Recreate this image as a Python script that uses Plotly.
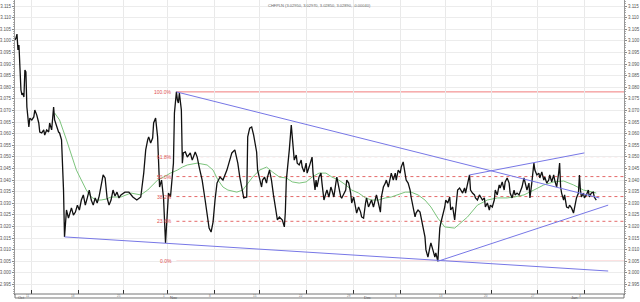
import plotly.graph_objects as go

# ---------------- data ----------------
bar_idx = [0,1,2,3,4,5,6,7,8,9,10,11,12,14,15,17,19,20,22,24,25,27,29,30,32,34,35,37,39,40,42,44,45,47,49,50,
           52,54,57,59,61,63,65,67,69,71,73,75,77,79,81,83,85,87,89,91,93,95,97,99,101,103,105,107,111,115,119,
           123,127,130,132,134,135,137,139,140,142,144,145,146,148,150,152,153,155,157,159,160,161,163,164,165,
           166,168,169,170,172,174,177,179,182,184,186,189,192,194,196,198,200,202,204,207,210,214,217,219,222,
           224,225,227,229,231,234,235,237,239,241,242,244,245,247,249,250,252,254,255,257,259,261,263,265,267,
           270,272,273,274,275,277,279,280,282,284,285,287,289,290,292,294,295,297,299,300,301,303,304,305,307,
           309,310,312,314,315,317,319,320,322,324,325,327,329,330,332,334,335,337,339,340,342,344,345,347,349,
           350,352,354,355,357,359,360,362,364,365,367,369,370,372,374,375,377,379,380,382,384,385,387,389,390,
           392,394,395,397,399,400,402,404,405,407,409,410,412,414,415,417,419,420,422,424,425,427,429,430,434,
           435,437,439,440,442,444,445,447,449,450,452,454,455,459,460,462,464,465,467,469,470,472,474,475,477,
           479,480,482,484,485,487,489,490,492,494,495,497,499,500,502,504,505,507,509,510,512,514,515,517,519,
           520,522,524,525,527,529,530,532,534,535,537,539,540,542,544,545,547,549,550,551,552,554,555,557,559,
           560,562,564,565,567,569,570,571,572,574,575,577,579,580,582,584,585,587]
close = [3.1004,3.1012,3.1029,3.0961,3.0982,3.0831,3.0788,3.0767,3.0775,3.0758,3.0874,3.0866,3.0715,3.0629,
         3.0667,3.0659,3.0672,3.0702,3.0680,3.0646,3.0607,3.0603,3.0616,3.0594,3.0616,3.0607,3.0646,3.0616,
         3.0715,3.0659,3.0629,3.0607,3.0603,3.0573,3.0357,3.0155,3.0271,3.0236,3.0280,3.0249,3.0262,3.0292,
         3.0271,3.0314,3.0336,3.0292,3.0323,3.0357,3.0314,3.0292,3.0323,3.0301,3.0331,3.0379,3.0422,3.0409,
         3.0323,3.0292,3.0314,3.0357,3.0331,3.0348,3.0323,3.0336,3.0348,3.0348,3.0327,3.0314,3.0327,3.0430,
         3.0530,3.0573,3.0586,3.0560,3.0581,3.0646,3.0667,3.0586,3.0499,3.0370,3.0400,3.0323,3.0129,3.0206,
         3.0344,3.0327,3.0443,3.0473,3.0689,3.0780,3.0745,3.0732,3.0775,3.0702,3.0473,3.0517,3.0521,3.0499,
         3.0517,3.0486,3.0521,3.0499,3.0456,3.0400,3.0314,3.0249,3.0193,3.0176,3.0219,3.0314,3.0387,3.0413,
         3.0400,3.0443,3.0486,3.0517,3.0530,3.0499,3.0473,3.0413,3.0370,3.0323,3.0327,3.0586,3.0624,3.0629,
         3.0594,3.0573,3.0521,3.0443,3.0400,3.0370,3.0400,3.0413,3.0387,3.0413,3.0443,3.0400,3.0336,3.0271,
         3.0228,3.0241,3.0228,3.0198,3.0262,3.0400,3.0456,3.0530,3.0637,3.0573,3.0486,3.0508,3.0473,3.0465,
         3.0486,3.0456,3.0435,3.0473,3.0430,3.0456,3.0486,3.0499,3.0430,3.0357,3.0400,3.0370,3.0413,3.0430,
         3.0387,3.0314,3.0344,3.0357,3.0327,3.0370,3.0357,3.0327,3.0387,3.0413,3.0370,3.0327,3.0323,3.0344,
         3.0357,3.0400,3.0387,3.0344,3.0301,3.0327,3.0284,3.0258,3.0284,3.0262,3.0241,3.0236,3.0301,3.0323,
         3.0284,3.0301,3.0314,3.0284,3.0323,3.0336,3.0301,3.0262,3.0327,3.0370,3.0387,3.0400,3.0370,3.0413,
         3.0430,3.0400,3.0430,3.0400,3.0443,3.0430,3.0456,3.0478,3.0430,3.0400,3.0387,3.0357,3.0327,3.0284,
         3.0241,3.0258,3.0271,3.0262,3.0241,3.0198,3.0155,3.0099,3.0068,3.0111,3.0129,3.0099,3.0068,3.0086,
         3.0050,3.0193,3.0215,3.0284,3.0314,3.0301,3.0327,3.0271,3.0284,3.0228,3.0284,3.0357,3.0366,3.0357,
         3.0344,3.0366,3.0344,3.0422,3.0357,3.0344,3.0336,3.0323,3.0314,3.0336,3.0327,3.0314,3.0323,3.0284,
         3.0301,3.0271,3.0292,3.0284,3.0314,3.0357,3.0336,3.0379,3.0366,3.0392,3.0357,3.0392,3.0409,3.0387,
         3.0344,3.0323,3.0357,3.0336,3.0344,3.0336,3.0348,3.0370,3.0409,3.0387,3.0357,3.0387,3.0323,3.0392,
         3.0473,3.0443,3.0422,3.0430,3.0409,3.0435,3.0400,3.0413,3.0387,3.0400,3.0422,3.0392,3.0422,3.0400,
         3.0370,3.0430,3.0473,3.0370,3.0344,3.0314,3.0336,3.0284,3.0280,3.0292,3.0280,3.0258,3.0284,3.0323,
         3.0344,3.0422,3.0357,3.0327,3.0344,3.0323,3.0336,3.0357,3.0327,3.0344,3.0348,3.0327,3.0314]

ma_idx = [40,45,52,57,62,67,72,77,82,87,92,97,107,117,127,134,144,150,157,164,169,174,184,194,200,205,210,215,
          224,230,235,240,247,254,260,267,274,280,287,294,300,307,314,320,327,334,340,347,354,360,367,374,380,
          387,394,400,407,414,420,427,434,444,450,457,467,477,487,497,504,514,524,534,544,554,564,574,584,587]
ma = [3.0689,3.0659,3.0573,3.0508,3.0443,3.0400,3.0357,3.0327,3.0314,3.0314,3.0318,3.0327,3.0327,3.0344,
      3.0336,3.0357,3.0400,3.0413,3.0430,3.0443,3.0456,3.0465,3.0473,3.0465,3.0443,3.0400,3.0370,3.0357,
      3.0348,3.0357,3.0387,3.0413,3.0443,3.0456,3.0435,3.0413,3.0409,3.0392,3.0387,3.0392,3.0413,3.0430,
      3.0430,3.0413,3.0400,3.0379,3.0357,3.0344,3.0323,3.0314,3.0314,3.0323,3.0327,3.0336,3.0348,3.0348,
      3.0336,3.0314,3.0284,3.0236,3.0198,3.0193,3.0215,3.0241,3.0292,3.0314,3.0323,3.0323,3.0327,3.0336,
      3.0357,3.0379,3.0392,3.0396,3.0379,3.0357,3.0348,3.0344]

# trend lines drawn on the chart (bar index, price) pairs
trend_x0 = [50, 163, 427, 459]
trend_y0 = [3.0155, 3.0780, 3.0050, 3.0422]
trend_x1 = [599, 590, 599, 575]
trend_y1 = [3.0008, 3.0323, 3.0292, 3.0517]

# Fibonacci retracement anchors (swing high / swing low)
fib_high = 3.0780
fib_low = 3.0050
fib_start = 163
fib_levels = [1.0, 0.618, 0.5, 0.382, 0.236, 0.0]
fib_labels = ["100.0%", "61.8%", "50.0%", "38.2%", "23.6%", "0.0%"]

week_ticks = [17, 64, 110, 154, 201, 247, 294, 342, 389, 435, 481, 528, 575]
week_days = ["11", "18", "25", "1", "8", "15", "22", "29", "6", "13", "20", "27", "3"]
month_labels = ["Oct", "Nov", "Dec", "Jan"]
month_pos = [1, 155, 350, 559]

title_text = "CHFPLN (3.02950, 3.02970, 3.02850, 3.02890, -0.00040)"

X_MAX = 615
Y_MIN, Y_MAX = 2.9909, 3.1176

FONT = "Liberation Sans, Arial, sans-serif"

fig = go.Figure()

shapes = []
annotations = []
for lev, lab in zip(fib_levels, fib_labels):
    val = fib_low + lev * (fib_high - fib_low)
    solid = lev in (0.0, 1.0)
    shapes.append(dict(type="line", xref="x", yref="y", x0=fib_start, x1=X_MAX, y0=val, y1=val,
                       line=dict(color="#f07c7c" if solid else "#e46a6a", width=1,
                                 dash="solid" if solid else "dot"), layer="below"))
    annotations.append(dict(x=fib_start - 2, y=val, xref="x", yref="y", text=lab, showarrow=False,
                            xanchor="right", yanchor="middle",
                            font=dict(size=5, color="#e05050", family=FONT)))

for x0, y0, x1, y1 in zip(trend_x0, trend_y0, trend_x1, trend_y1):
    shapes.append(dict(type="line", xref="x", yref="y", x0=x0, y0=y0, x1=x1, y1=y1,
                       line=dict(color="#7777e6", width=1)))

# bottom strip
shapes.append(dict(type="rect", xref="x domain", yref="paper", x0=0, x1=1, y0=-0.0136, y1=0,
                   line=dict(color="#777", width=1), fillcolor="white"))

fig.add_trace(go.Scatter(x=ma_idx, y=ma, mode="lines", line=dict(color="#7cc47c", width=1),
                         hoverinfo="skip", showlegend=False))
fig.add_trace(go.Scatter(x=bar_idx, y=close, mode="lines", line=dict(color="#111", width=1.3),
                         showlegend=False))
fig.add_trace(go.Scatter(x=[bar_idx[0]], y=[close[0]], yaxis="y2", mode="markers",
                         marker=dict(opacity=0), hoverinfo="skip", showlegend=False))

for m, p in zip(month_labels, month_pos):
    annotations.append(dict(x=p, y=-8 / 294, xref="x", yref="paper", text=m, showarrow=False,
                            xanchor="left", yanchor="bottom", font=dict(size=4, color="#555", family=FONT)))
for d, p in zip(week_days, week_ticks):
    annotations.append(dict(x=p - 1, y=-0.006, xref="x", yref="paper", text=d, showarrow=False,
                            xanchor="right", yanchor="middle", font=dict(size=3, color="#777", family=FONT)))

annotations.append(dict(x=0.5, y=1, xref="paper", yref="paper", text=title_text, showarrow=False,
                        xanchor="center", yanchor="top", yshift=-1,
                        font=dict(size=4, color="#666", family=FONT)))

yax_common = dict(range=[Y_MIN, Y_MAX], tick0=2.995, dtick=0.005, tickformat=".3f",
                  ticks="outside", ticklen=2, tickcolor="#888",
                  tickfont=dict(size=4.5, color="#555", family=FONT),
                  showline=True, linecolor="#999", linewidth=1, zeroline=False,
                  minor=dict(dtick=0.001, ticks="outside", ticklen=1, tickcolor="#aaa"))

fig.update_layout(
    width=640, height=302,
    margin=dict(l=13, r=12, t=0, b=8),
    paper_bgcolor="white", plot_bgcolor="white",
    showlegend=False,
    shapes=shapes, annotations=annotations,
    xaxis=dict(range=[0, X_MAX], tickmode="array", tickvals=week_ticks, ticktext=[""] * len(week_ticks),
               ticks="inside", ticklen=4, tickcolor="#333", showgrid=True, gridcolor="#e9e9e9",
               showline=True, linecolor="#777", zeroline=False, fixedrange=True),
    yaxis=dict(side="left", showgrid=True, gridcolor="#ececec", **yax_common),
    yaxis2=dict(side="right", overlaying="y", showgrid=False, **yax_common),
)

fig.write_html("out.html")
